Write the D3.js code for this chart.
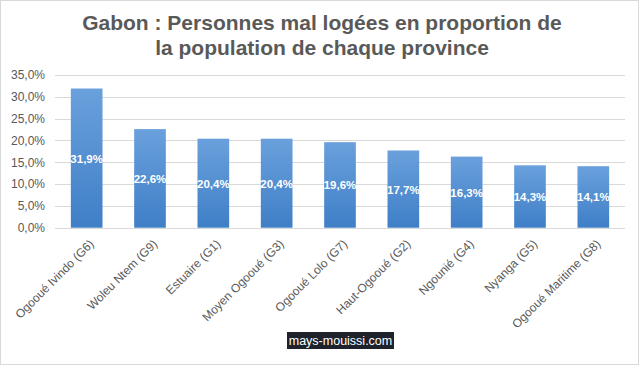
<!DOCTYPE html>
<html><head><meta charset="utf-8">
<script src="https://cdn.jsdelivr.net/npm/d3@7"></script>
<style>body{margin:0;background:#fff}svg{display:block}</style>
</head><body>
<script>
const categories = ["Ogooué Ivindo (G6)","Woleu Ntem (G9)","Estuaire (G1)","Moyen Ogooué (G3)","Ogooué Lolo (G7)","Haut-Ogooué (G2)","Ngounié (G4)","Nyanga (G5)","Ogooué Maritime (G8)"];
const values = [31.9,22.6,20.4,20.4,19.6,17.7,16.3,14.3,14.1];
const yTicks = [0,5,10,15,20,25,30,35];
const titleLines = ["Gabon : Personnes mal logées en proportion de","la population de chaque province"];
const watermark = "mays-mouissi.com";

const W=642,H=367;
const svg=d3.select("body").append("svg").attr("width",W).attr("height",H);
svg.append("rect").attr("x",0.5).attr("y",0.5).attr("width",W-4).attr("height",H-3).attr("fill","#fff").attr("stroke","#d9d9d9");

const defs=svg.append("defs");
const g=defs.append("linearGradient").attr("id","bg").attr("x1",0).attr("y1",0).attr("x2",0).attr("y2",1);
g.append("stop").attr("offset","0%").attr("stop-color","#6aa0dc");
g.append("stop").attr("offset","100%").attr("stop-color","#3f7fc7");

const m={l:55,r:17,t:75,b:139};
const x=d3.scaleBand().domain(categories).range([m.l,W-m.r]).paddingInner(0.5).paddingOuter(0.25);
const y=d3.scaleLinear().domain([0,35]).range([227.7,75]);

svg.append("g").selectAll("line").data(yTicks).join("line")
 .attr("x1",m.l).attr("x2",W-m.r).attr("y1",d=>Math.round(y(d))+0.5).attr("y2",d=>Math.round(y(d))+0.5)
 .attr("stroke","#d9d9d9").attr("stroke-width",1);

const yAxis=d3.axisLeft(y).tickValues(yTicks).tickSize(0).tickPadding(0)
 .tickFormat(d=>d3.format(".1f")(d).replace(".",",")+"%");
const ya=svg.append("g").attr("transform","translate(45,0)").call(yAxis);
ya.select(".domain").remove();
ya.selectAll("text").attr("font-family","Liberation Sans, Arial, sans-serif").attr("font-size",12).attr("fill","#595959");

svg.append("g").selectAll("rect").data(values).join("rect")
 .attr("x",(d,i)=>x(categories[i])).attr("width",x.bandwidth())
 .attr("y",d=>y(d)).attr("height",d=>y(0)-y(d)).attr("fill","url(#bg)");

svg.append("g").selectAll("text").data(values).join("text")
 .attr("x",(d,i)=>x(categories[i])+x.bandwidth()/2)
 .attr("y",d=>(y(d)+y(0))/2+4.5)
 .attr("text-anchor","middle").attr("font-family","Liberation Sans, Arial, sans-serif")
 .attr("font-size",11.5).attr("font-weight","bold").attr("fill","#fff")
 .text(d=>d3.format(".1f")(d).replace(".",",")+"%");

const xAxis=d3.axisBottom(x).tickSize(0).tickPadding(0);
const xa=svg.append("g").attr("transform",`translate(0,${y(0)})`).call(xAxis);
xa.select(".domain").remove();
xa.selectAll("text").attr("font-family","Liberation Sans, Arial, sans-serif").attr("font-size",12).attr("fill","#595959")
 .attr("text-anchor","end").attr("dy",0)
 .attr("transform","translate(8,17) rotate(-45)");

svg.append("g").selectAll("text").data(titleLines).join("text")
 .attr("x",322).attr("y",(d,i)=>30+i*25).attr("text-anchor","middle")
 .attr("font-family","Liberation Sans, Arial, sans-serif").attr("font-size",21).attr("font-weight","bold").attr("fill","#595959")
 .text(d=>d);

svg.append("rect").attr("x",287).attr("y",332).attr("width",107).attr("height",17).attr("fill","#1e222a");
svg.append("text").attr("x",340.5).attr("y",345).attr("text-anchor","middle")
 .attr("font-family","Liberation Sans, Arial, sans-serif").attr("font-size",12.5).attr("fill","#fff").text(watermark);
</script>
</body></html>
